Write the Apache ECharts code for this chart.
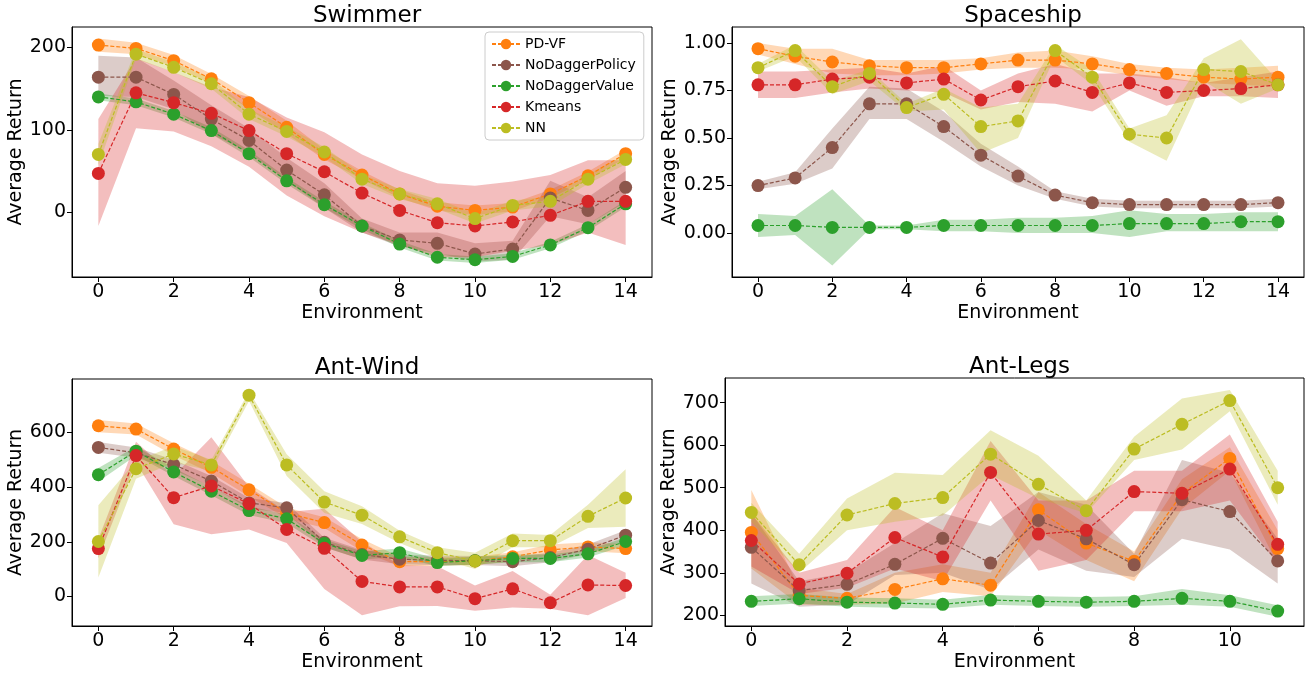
<!DOCTYPE html>
<html><head><meta charset="utf-8">
<script src="https://cdn.jsdelivr.net/npm/echarts@6/dist/echarts.min.js"></script>
<style>html,body{margin:0;padding:0;background:#fff}#c{width:1309px;height:673px}</style>
</head><body><div id="c"></div>
<script>
const methods = ['PD-VF','NoDaggerPolicy','NoDaggerValue','Kmeans','NN'];
const colors = ['#ff7f0e','#8c564b','#2ca02c','#d62728','#bcbd22'];
const titles = ['Swimmer','Spaceship','Ant-Wind','Ant-Legs'];
const envs15 = [0,1,2,3,4,5,6,7,8,9,10,11,12,13,14];
const envs12 = [0,1,2,3,4,5,6,7,8,9,10,11];

// Swimmer
const sw_pdvf = [203,199,184,162,133,103,70,45,22,7,2,6,22,44,71];
const sw_pdvf_lo = [195,192,177,156,125,95,64,40,17,2,-4,1,17,39,66];
const sw_pdvf_hi = [211,206,191,168,141,111,76,50,27,12,8,11,27,49,76];
const sw_ndp = [164,164,143,113,87,51,21,-17,-34,-38,-51,-45,17,2,30];
const sw_ndp_lo = [141,140,125,95,72,38,5,-25,-42,-50,-60,-58,-5,-15,12];
const sw_ndp_hi = [190,188,160,130,102,66,35,-8,-25,-25,-38,-35,38,18,50];
const sw_ndv = [140,134,119,99,71,38,9,-17,-39,-55,-58,-54,-40,-19,10];
const sw_ndv_lo = [136,130,115,95,67,34,5,-21,-43,-59,-62,-58,-44,-23,6];
const sw_ndv_hi = [144,138,123,103,75,42,13,-13,-35,-51,-54,-50,-36,-15,14];
const sw_km = [47,145,133,120,99,71,49,23,2,-13,-17,-12,-4,13,13];
const sw_km_lo = [-17,102,98,80,55,20,-5,-25,-40,-55,-55,-47,-40,-25,-40];
const sw_km_hi = [113,187,170,152,140,115,97,70,50,35,32,37,45,63,63];
const sw_nn = [70,192,176,156,119,98,73,40,22,10,-8,8,13,40,64];
const sw_nn_lo = [57,186,170,150,113,92,67,34,16,4,-14,2,7,34,58];
const sw_nn_hi = [83,198,182,162,125,104,79,46,28,16,-2,14,19,46,70];

// Spaceship
const sp_pdvf = [0.97,0.93,0.90,0.88,0.87,0.87,0.89,0.91,0.91,0.89,0.86,0.84,0.82,0.81,0.82];
const sp_pdvf_lo = [0.94,0.89,0.84,0.83,0.83,0.84,0.86,0.87,0.87,0.86,0.83,0.81,0.79,0.78,0.77];
const sp_pdvf_hi = [1.00,0.97,0.97,0.91,0.91,0.91,0.92,0.95,0.96,0.93,0.89,0.87,0.86,0.87,0.88];
const sp_ndp = [0.25,0.29,0.45,0.68,0.68,0.56,0.41,0.30,0.20,0.16,0.15,0.15,0.15,0.15,0.16];
const sp_ndp_lo = [0.23,0.26,0.34,0.60,0.60,0.48,0.35,0.25,0.18,0.14,0.13,0.13,0.13,0.13,0.14];
const sp_ndp_hi = [0.27,0.32,0.55,0.77,0.76,0.64,0.47,0.35,0.22,0.18,0.17,0.17,0.17,0.17,0.18];
const sp_ndv = [0.04,0.04,0.03,0.03,0.03,0.04,0.04,0.04,0.04,0.04,0.05,0.05,0.05,0.06,0.06];
const sp_ndv_lo = [-0.02,-0.01,-0.17,0.02,0.02,0.01,0.01,0.00,0.00,0.00,-0.02,0.01,0.01,0.01,0.01];
const sp_ndv_hi = [0.10,0.09,0.23,0.04,0.04,0.07,0.07,0.08,0.08,0.09,0.12,0.10,0.10,0.11,0.11];
const sp_km = [0.78,0.78,0.81,0.82,0.79,0.81,0.70,0.77,0.80,0.74,0.79,0.74,0.75,0.76,0.78];
const sp_km_lo = [0.71,0.71,0.74,0.76,0.75,0.74,0.65,0.69,0.68,0.64,0.75,0.67,0.72,0.72,0.71];
const sp_km_hi = [0.85,0.85,0.86,0.87,0.84,0.88,0.75,0.84,0.89,0.84,0.84,0.82,0.79,0.82,0.85];
const sp_nn = [0.87,0.96,0.77,0.84,0.66,0.73,0.56,0.59,0.96,0.82,0.52,0.50,0.86,0.85,0.78];
const sp_nn_lo = [0.85,0.93,0.73,0.80,0.64,0.65,0.42,0.50,0.93,0.78,0.48,0.38,0.80,0.68,0.76];
const sp_nn_hi = [0.89,0.99,0.80,0.86,0.68,0.76,0.66,0.68,0.99,0.86,0.55,0.62,0.92,1.02,0.80];

// Ant-Wind
const aw_pdvf = [624,612,539,472,390,305,270,188,127,127,130,145,170,181,175];
const aw_pdvf_lo = [600,592,515,450,365,285,250,165,110,112,115,128,150,165,158];
const aw_pdvf_hi = [645,632,560,495,412,325,290,210,145,142,145,162,190,198,192];
const aw_ndp = [545,525,482,422,342,324,198,153,136,132,131,127,142,173,224];
const aw_ndp_lo = [525,507,462,402,322,305,180,135,118,115,115,110,125,155,205];
const aw_ndp_hi = [565,545,500,440,360,342,215,170,152,150,148,145,160,190,242];
const aw_ndv = [445,531,455,385,314,284,194,150,160,124,131,139,139,156,201];
const aw_ndv_lo = [420,515,440,370,298,268,180,135,145,110,117,125,125,142,186];
const aw_ndv_hi = [470,548,470,400,330,300,208,165,175,138,145,153,153,170,216];
const aw_km = [175,515,361,404,339,245,176,55,35,35,-8,28,-23,42,40];
const aw_km_lo = [140,490,264,227,245,195,27,-69,-36,-35,-52,-40,-45,-69,-6];
const aw_km_hi = [210,566,440,582,400,309,321,200,115,110,40,93,6,152,87];
const aw_nn = [201,467,521,481,736,481,345,297,218,160,130,204,204,293,360];
const aw_nn_lo = [69,430,490,460,715,440,305,265,195,140,100,180,180,250,255];
const aw_nn_hi = [333,495,550,500,750,520,385,330,240,180,160,230,225,335,465];

// Ant-Legs
const al_pdvf = [395,247,240,261,286,271,448,370,327,486,569,357];
const al_pdvf_lo = [310,225,225,228,255,245,400,330,280,450,540,320];
const al_pdvf_hi = [495,265,250,300,320,300,490,415,350,520,595,400];
const al_ndp = [360,258,273,320,381,323,423,380,319,472,444,328];
const al_ndp_lo = [275,220,225,295,300,260,355,305,290,380,355,275];
const al_ndp_hi = [440,280,300,370,440,410,490,460,345,565,535,380];
const al_ndv = [233,239,231,229,226,236,233,231,233,240,233,210];
const al_ndv_lo = [222,228,220,218,216,225,222,220,222,225,220,197];
const al_ndv_hi = [245,250,242,240,237,248,245,243,245,262,247,224];
const al_km = [376,274,299,383,337,536,391,400,491,487,544,367];
const al_km_lo = [315,250,265,310,280,470,305,330,445,445,470,320];
const al_km_hi = [440,300,330,455,400,610,470,470,540,540,625,420];
const al_nn = [442,319,436,463,477,579,508,446,591,649,705,500];
const al_nn_lo = [420,300,400,420,435,530,475,440,565,590,680,460];
const al_nn_hi = [465,345,475,535,530,635,575,470,620,710,730,540];

const xTicks15 = [0,2,4,6,8,10,12,14];
const xTicks12 = [0,2,4,6,8,10];
const yTicksSw = [0,100,200];
const yTicksSp = [0,0.25,0.5,0.75,1.0];
const yTicksAw = [0,200,400,600];
const yTicksAl = [200,300,400,500,600,700];

const panels = [
  {envs: envs15, xt: xTicks15, yt: yTicksSw, xmin:-0.7, xmax:14.7, ymin:-79, ymax:225, dec:0, ygap:43,
   mean:[sw_pdvf,sw_ndp,sw_ndv,sw_km,sw_nn], lo:[sw_pdvf_lo,sw_ndp_lo,sw_ndv_lo,sw_km_lo,sw_nn_lo], hi:[sw_pdvf_hi,sw_ndp_hi,sw_ndv_hi,sw_km_hi,sw_nn_hi]},
  {envs: envs15, xt: xTicks15, yt: yTicksSp, xmin:-0.7, xmax:14.7, ymin:-0.231, ymax:1.084, dec:2, ygap:47,
   mean:[sp_pdvf,sp_ndp,sp_ndv,sp_km,sp_nn], lo:[sp_pdvf_lo,sp_ndp_lo,sp_ndv_lo,sp_km_lo,sp_nn_lo], hi:[sp_pdvf_hi,sp_ndp_hi,sp_ndv_hi,sp_km_hi,sp_nn_hi]},
  {envs: envs15, xt: xTicks15, yt: yTicksAw, xmin:-0.7, xmax:14.7, ymin:-108, ymax:795, dec:0, ygap:43,
   mean:[aw_pdvf,aw_ndp,aw_ndv,aw_km,aw_nn], lo:[aw_pdvf_lo,aw_ndp_lo,aw_ndv_lo,aw_km_lo,aw_nn_lo], hi:[aw_pdvf_hi,aw_ndp_hi,aw_ndv_hi,aw_km_hi,aw_nn_hi]},
  {envs: envs12, xt: xTicks12, yt: yTicksAl, xmin:-0.55, xmax:11.55, ymin:175, ymax:758, dec:0, ygap:40,
   mean:[al_pdvf,al_ndp,al_ndv,al_km,al_nn], lo:[al_pdvf_lo,al_ndp_lo,al_ndv_lo,al_km_lo,al_nn_lo], hi:[al_pdvf_hi,al_ndp_hi,al_ndv_hi,al_km_hi,al_nn_hi]}
];

const grids = [
  {left:72, top:27, width:580, height:250, show:true, borderColor:'#000', borderWidth:1},
  {left:732, top:27, width:572, height:250, show:true, borderColor:'#000', borderWidth:1},
  {left:72, top:379, width:580, height:250, show:true, borderColor:'#000', borderWidth:1},
  {left:725, top:378, width:579, height:251, show:true, borderColor:'#000', borderWidth:1}
];
const font = 'DejaVu Sans';
const xAxes = [], yAxes = [], series = [], titleArr = [];
panels.forEach((p, gi) => {
  const g = grids[gi];
  titleArr.push({text: titles[gi], left: g.left + g.width/2, top: g.top - 27, textAlign: 'center',
    textStyle: {fontFamily: font, fontSize: 23, fontWeight: 'normal', color: '#000'}});
  xAxes.push({type:'value', gridIndex: gi, min: p.xmin, max: p.xmax,
    name: 'Environment', nameLocation: 'middle', nameGap: 27,
    nameTextStyle: {fontFamily: font, fontSize: 19, color:'#000'},
    axisLine: {show: true, onZero: false, lineStyle: {color:'#000'}},
    axisTick: {show: true, length: 5, customValues: p.xt, lineStyle:{color:'#000'}},
    axisLabel: {customValues: p.xt, fontFamily: font, fontSize: 19, color:'#000', margin: 6},
    splitLine: {show: false}});
  yAxes.push({type:'value', gridIndex: gi, min: p.ymin, max: p.ymax,
    name: 'Average Return', nameLocation: 'middle', nameGap: p.ygap,
    nameTextStyle: {fontFamily: font, fontSize: 19, color:'#000'},
    axisLine: {show: true, onZero: false, lineStyle: {color:'#000'}},
    axisTick: {show: true, length: 5, customValues: p.yt, lineStyle:{color:'#000'}},
    axisLabel: {customValues: p.yt, fontFamily: font, fontSize: 19, color:'#000', margin: 6,
      formatter: v => Number(v).toFixed(p.dec)},
    splitLine: {show: false}});
  methods.forEach((m, mi) => {
    const lo = p.lo[mi], hi = p.hi[mi];
    series.push({type:'custom', xAxisIndex: gi, yAxisIndex: gi, z: 1, silent: true,
      data: p.envs.map((x, i) => [x, lo[i], hi[i]]),
      encode: {x: 0, y: [1, 2]},
      clip: true,
      renderItem: (params, api) => {
        if (params.dataIndex !== 0) return null;
        const pts = [];
        p.envs.forEach((x, i) => pts.push(api.coord([x, hi[i]])));
        for (let i = p.envs.length - 1; i >= 0; i--) pts.push(api.coord([p.envs[i], lo[i]]));
        return {type: 'polygon', shape: {points: pts}, style: {fill: colors[mi], opacity: 0.3}};
      }});
  });
  methods.forEach((m, mi) => {
    series.push({type:'line', name: m, xAxisIndex: gi, yAxisIndex: gi, z: 3,
      data: p.envs.map((x, i) => [x, p.mean[mi][i]]),
      symbol: 'circle', symbolSize: 13, showSymbol: true,
      itemStyle: {color: colors[mi], opacity: 1},
      lineStyle: {color: colors[mi], width: 1.2, type: [4, 2]},
      animation: false});
  });
});

const chart = echarts.init(document.getElementById('c'), null, {renderer: 'canvas'});
chart.setOption({
  animation: false,
  backgroundColor: '#fff',
  title: titleArr,
  grid: grids,
  xAxis: xAxes,
  yAxis: yAxes,
  legend: {data: methods, orient: 'vertical', left: 485, top: 32, itemGap: 7, itemWidth: 28, itemHeight: 13,
    backgroundColor: '#fff', borderColor: '#ccc', borderWidth: 1, borderRadius: 4, padding: [5, 8, 5, 6],
    textStyle: {fontFamily: font, fontSize: 14, color: '#000'}},
  series: series
});
</script></body></html>
